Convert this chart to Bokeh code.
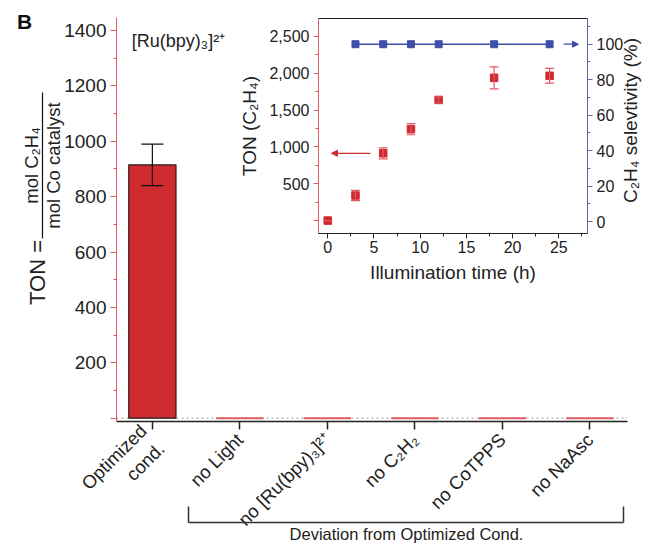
import math
from bokeh.plotting import figure
from bokeh.models import (Range1d, LinearAxis, FixedTicker, NumeralTickFormatter, Whisker,
                          TeeHead, ColumnDataSource, Arrow, NormalHead, Span)
from bokeh.core.properties import value
from bokeh.embed import file_html
from bokeh.resources import INLINE

FONT = "Liberation Sans"
RED = "#cf2a30"
RED_AXIS = "#e25a64"
BLUE = "#3f4fa8"
BLUE_AXIS = "#5a68b0"
TXT = "#222222"

# ---------------- data ----------------
conditions = ["Optimized\ncond.", "no Light", "no [Ru(bpy)\u2083]\u00b2\u207a",
              "no C\u2082H\u2082", "no CoTPPS", "no NaAsc"]
ton_values = [915, 0, 0, 0, 0, 0]
ton_errors = [75, 0, 0, 0, 0, 0]
main_y_ticks = [0, 200, 400, 600, 800, 1000, 1200, 1400]

time_h = [0, 3, 6, 9, 12, 18, 24]
ton_time = [0, 340, 913, 1240, 1637, 1937, 1964]
ton_time_err = [0, 70, 75, 75, 38, 150, 100]
sel_time_h = [3, 6, 9, 12, 18, 24]
selectivity = [100, 100, 100, 100, 100, 100]
inset_x_ticks = [0, 5, 10, 15, 20, 25]
inset_y_ticks = [0, 500, 1000, 1500, 2000, 2500]
inset_sel_ticks = [0, 20, 40, 60, 80, 100]

PAGE_W, PAGE_H = 646, 544

# ---------------- main figure ----------------
X0, X1 = -0.41, 5.43
Y0, Y1 = -12, 1447
p = figure(width=PAGE_W, height=PAGE_H, x_range=Range1d(X0, X1), y_range=Range1d(Y0, Y1),
           output_backend="svg", toolbar_location=None,
           min_border_left=116, min_border_right=19, min_border_top=17, min_border_bottom=123)
p.background_fill_color = None
p.border_fill_color = None
p.outline_line_color = None
p.grid.visible = False
p.margin = (0, 0, -PAGE_H, 0)

p.add_layout(Span(location=0, dimension="width", line_color="#9a9a9a",
                  line_dash="2 3", line_width=1, level="underlay"))

xs = list(range(len(conditions)))
outline = ["#222222" if v > 0 else RED_AXIS for v in ton_values]
lw = [1.2 if v > 0 else 2 for v in ton_values]
bar_src = ColumnDataSource(dict(x=xs, top=ton_values, line=outline, lw=lw))
p.vbar(x="x", top="top", bottom=0, width=0.54, source=bar_src,
       fill_color=RED, line_color="line", line_width="lw")

err_idx = [i for i, e in enumerate(ton_errors) if e > 0]
err_src = ColumnDataSource(dict(base=[xs[i] for i in err_idx],
                                upper=[ton_values[i] + ton_errors[i] for i in err_idx],
                                lower=[ton_values[i] - ton_errors[i] for i in err_idx]))
wh = Whisker(source=err_src, base="base", upper="upper", lower="lower",
             line_color="#111111", line_width=1.2,
             upper_head=TeeHead(size=22, line_color="#111111", line_width=1.2),
             lower_head=TeeHead(size=22, line_color="#111111", line_width=1.2))
wh.level = "overlay"
p.add_layout(wh)

xa = p.xaxis[0]
xa.ticker = FixedTicker(ticks=xs)
xa.major_label_overrides = {i: c for i, c in zip(xs, conditions)}
xa.major_label_orientation = math.pi / 4
xa.major_tick_out = 8
xa.major_tick_in = 0
xa.minor_tick_out = 0
xa.minor_tick_in = 0
xa.axis_line_color = "#222222"
xa.axis_line_width = 1.5
xa.major_tick_line_color = "#222222"
xa.major_tick_line_width = 1.5
xa.major_label_text_font = FONT
xa.major_label_text_font_size = "18.5px"
xa.major_label_text_color = TXT
xa.major_label_standoff = 7

ya = p.yaxis[0]
ya.ticker = FixedTicker(ticks=main_y_ticks,
                        minor_ticks=[t + 100 for t in main_y_ticks[:-1]])
ya.major_label_overrides = {0: ""}
ya.axis_line_color = RED_AXIS
ya.major_tick_line_color = RED_AXIS
ya.minor_tick_line_color = RED_AXIS
ya.major_tick_out = 6
ya.major_tick_in = 0
ya.minor_tick_out = 3
ya.minor_tick_in = 0
ya.major_label_text_font = FONT
ya.major_label_text_font_size = "19px"
ya.major_label_text_color = TXT
ya.major_label_standoff = 4

# ---------------- inset ----------------
IX0, IX1 = -1, 28.1
IY0, IY1 = -175, 2742
inset = figure(width=418, height=285, x_range=Range1d(IX0, IX1), y_range=Range1d(IY0, IY1),
               output_backend="svg", toolbar_location=None,
               min_border_left=90, min_border_right=59, min_border_top=18, min_border_bottom=50)
inset.extra_y_ranges = {"sel": Range1d(-6.7, 114.5)}
inset.background_fill_color = None
inset.border_fill_color = None
inset.outline_line_color = "#222222"
inset.grid.visible = False
inset.margin = (0, 0, -285, 228)

# inset frame in page pixels: left 318, right 587
def ix(px):
    return IX0 + (px - 318) / (587 - 318) * (IX1 - IX0)

ra = LinearAxis(y_range_name="sel")
inset.add_layout(ra, "right")

lax = inset.yaxis[0]
lax.ticker = FixedTicker(ticks=inset_y_ticks,
                         minor_ticks=[t + 250 for t in inset_y_ticks[:-1]])
lax.formatter = NumeralTickFormatter(format="0,0")
lax.major_label_overrides = {0: ""}
lax.axis_line_color = RED_AXIS
lax.major_tick_line_color = RED_AXIS
lax.minor_tick_line_color = RED_AXIS
lax.axis_label = "TON (C\u2082H\u2084)"

ra.ticker = FixedTicker(ticks=inset_sel_ticks,
                        minor_ticks=[t + 10 for t in inset_sel_ticks])
ra.axis_line_color = BLUE_AXIS
ra.major_tick_line_color = BLUE_AXIS
ra.minor_tick_line_color = BLUE_AXIS

bx = inset.xaxis[0]
bx.ticker = FixedTicker(ticks=inset_x_ticks,
                        minor_ticks=[t + 2.5 for t in inset_x_ticks])
bx.axis_line_color = "#222222"
bx.major_tick_line_color = "#222222"
bx.minor_tick_line_color = "#222222"
bx.axis_label = "Illumination time (h)"

for ax in (lax, ra, bx):
    ax.major_tick_out = 5
    ax.major_tick_in = 0
    ax.minor_tick_out = 3
    ax.minor_tick_in = 0
    ax.major_label_text_font = FONT
    ax.major_label_text_font_size = "16px"
    ax.major_label_text_color = TXT
    ax.major_label_standoff = 4
    ax.axis_label_text_font = FONT
    ax.axis_label_text_font_size = "19px"
    ax.axis_label_text_font_style = "normal"
    ax.axis_label_text_color = TXT
    ax.axis_label_standoff = 6
bx.major_label_standoff = 2

ton_src = ColumnDataSource(dict(t=time_h, v=ton_time,
                                up=[v + e for v, e in zip(ton_time, ton_time_err)],
                                lo=[v - e for v, e in zip(ton_time, ton_time_err)]))
ew = Whisker(source=ton_src, base="t", upper="up", lower="lo", line_color=RED_AXIS,
             line_width=1.2,
             upper_head=TeeHead(size=9, line_color=RED_AXIS, line_width=1.2),
             lower_head=TeeHead(size=9, line_color=RED_AXIS, line_width=1.2))
ew.level = "glyph"
inset.add_layout(ew)
inset.scatter("t", "v", source=ton_src, marker="square", size=7.5,
              fill_color=RED, line_color=RED)

inset.line(sel_time_h, selectivity, y_range_name="sel", line_color=BLUE, line_width=1.5)
inset.scatter(sel_time_h, selectivity, y_range_name="sel", marker="square", size=7,
              fill_color=BLUE, line_color=BLUE)

arrow_y = ton_time[time_h.index(6)]
inset.add_layout(Arrow(x_start=ix(370), y_start=arrow_y, x_end=ix(331), y_end=arrow_y,
                       end=NormalHead(size=6, fill_color=RED, line_color=RED),
                       line_color=RED, line_width=1.2))
inset.add_layout(Arrow(x_start=ix(563), y_start=selectivity[-1], x_end=ix(578),
                       y_end=selectivity[-1], y_range_name="sel",
                       end=NormalHead(size=6, fill_color=BLUE, line_color=BLUE),
                       line_color=BLUE, line_width=1.2))

# ---------------- text / bracket overlay (page-pixel space) ----------------
ann = figure(width=PAGE_W, height=PAGE_H, x_range=Range1d(0, PAGE_W), y_range=Range1d(0, PAGE_H),
             output_backend="svg", toolbar_location=None,
             x_axis_location=None, y_axis_location=None,
             min_border_left=0, min_border_right=0, min_border_top=0, min_border_bottom=0)
ann.background_fill_color = None
ann.border_fill_color = None
ann.outline_line_color = None
ann.grid.visible = False

def put(x, y, text, size, angle=0.0, style="normal", color=TXT):
    ann.text(x=[x], y=[PAGE_H - y], text=[text], angle=angle,
             text_align="center", text_baseline="middle",
             text_font=value(FONT), text_font_size=value(size),
             text_font_style=style, text_color=color)

def seg(x0, y0, x1, y1, color="#333333", width=1.5):
    ann.segment(x0=[x0], y0=[PAGE_H - y0], x1=[x1], y1=[PAGE_H - y1],
                line_color=color, line_width=width)

put(24, 21, "B", "21px", style="bold", color="#111111")
put(178, 40, "[Ru(bpy)\u2083]\u00b2\u207a", "18px")
put(37, 272, "TON =", "22px", angle=math.pi / 2)
put(31, 165, "mol C\u2082H\u2084", "18.5px", angle=math.pi / 2)
put(53, 165, "mol Co catalyst", "18.5px", angle=math.pi / 2)
seg(42, 92, 42, 238, color="#111111", width=1.2)

seg(188, 506, 188, 522)
seg(188, 522, 623, 522)
seg(623, 522, 623, 506)
put(406, 533, "Deviation from Optimized Cond.", "16.5px")

put(630, 120, "C\u2082H\u2084 selevtivity (%)", "19px", angle=math.pi / 2)

open("out.html", "w").write(file_html([inset, p, ann], INLINE))
